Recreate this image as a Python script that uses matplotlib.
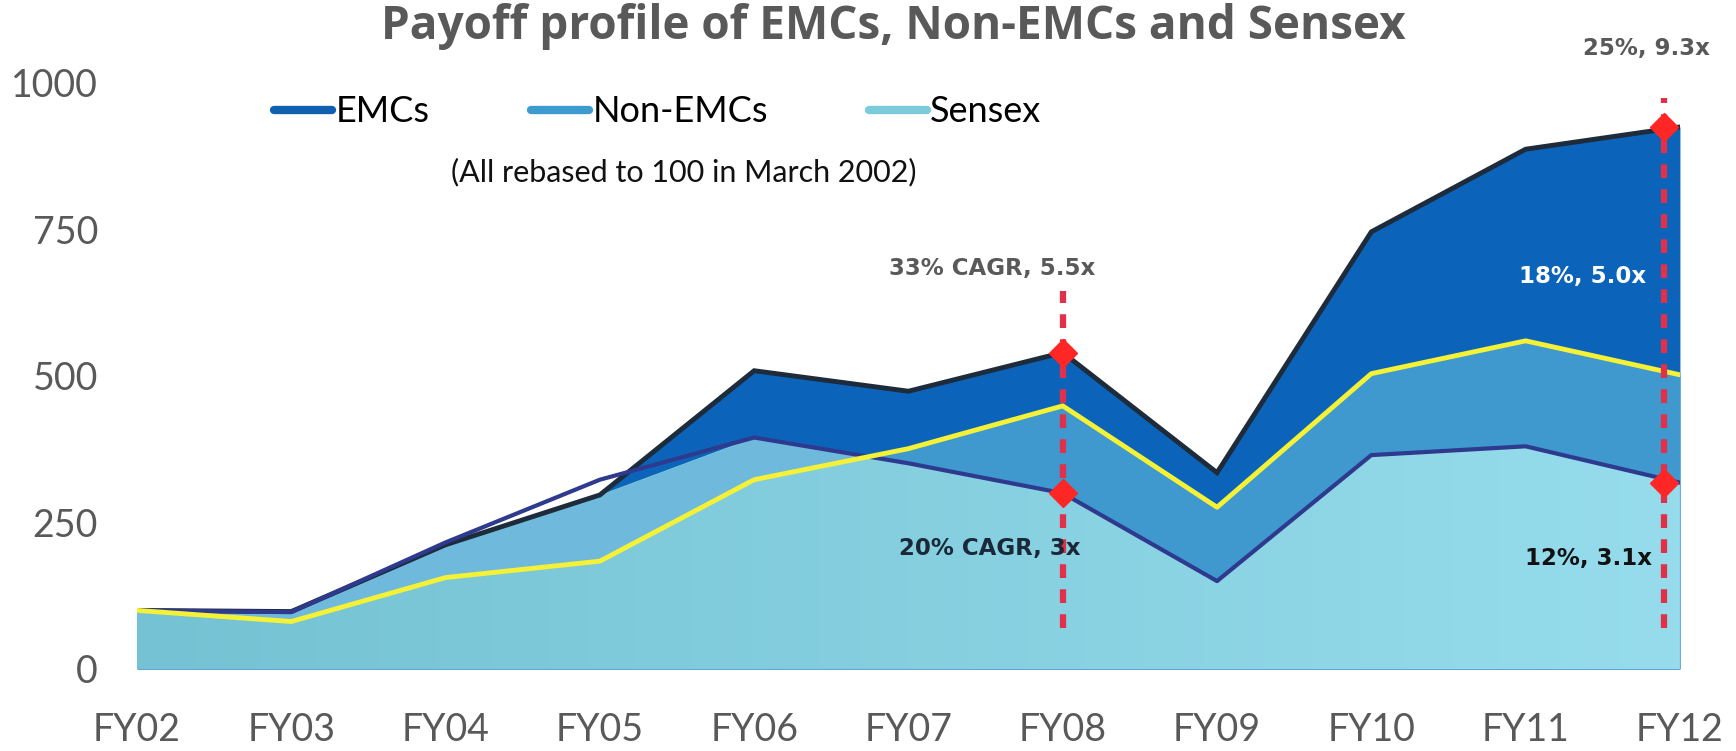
import matplotlib.pyplot as plt
import numpy as np
from matplotlib.lines import Line2D
from matplotlib.colors import LinearSegmentedColormap

# values rebased to 100 in March 2002
years = ["FY02", "FY03", "FY04", "FY05", "FY06", "FY07", "FY08", "FY09", "FY10", "FY11", "FY12"]
emcs = [100, 98, 212, 297, 509, 474, 540, 335, 746, 887, 925]
non_emcs = [100, 81, 156, 184, 323, 376, 449, 276, 504, 560, 502]
sensex = [100, 97, 216, 323, 395, 351, 300, 150, 365, 380, 318]

# callouts at FY08 and FY12
callout_idx = [6, 10]
callout_x = [6, 9.9]
dash_top = [645, 975]
dash_bottom = 70

gray = "#595959"
dark = "#0c64ba"
mid = "#3f98ce"

fig = plt.figure(figsize=(17.36, 7.51), dpi=100)
ax = fig.add_axes([0.0789, 0.1092, 0.8888, 0.7803])
x = np.arange(len(years))
emcs_a = np.array(emcs, dtype=float)
non_a = np.array(non_emcs, dtype=float)
sens_a = np.array(sensex, dtype=float)

# stacked look: EMCs, then Non-EMCs, then Sensex with a gradient on top
ax.fill_between(x, 0, emcs_a, color=dark, lw=0, zorder=1)
ax.fill_between(x, 0, non_a, color=mid, lw=0, zorder=2)
top_light = np.minimum(sens_a, emcs_a)
poly = ax.fill_between(x, 0, top_light, color="none", lw=0, zorder=3)
grad = np.linspace(0, 1, 256).reshape(1, -1)
cmap = LinearSegmentedColormap.from_list("sens", ["#74c2d3", "#96dcec"])
im = ax.imshow(grad, extent=[0, 10, 0, 1000], aspect="auto", cmap=cmap,
               origin="lower", zorder=3)
im.set_clip_path(poly.get_paths()[0], transform=ax.transData)
ax.fill_between(x, non_a, top_light, where=top_light > non_a, interpolate=True,
                color="#6fb9dc", lw=0, zorder=4)

ax.plot(x, emcs_a, color="#1d2b3b", lw=3.5, zorder=5, solid_joinstyle="miter")
ax.plot(x, sens_a, color="#2e3a8e", lw=3, zorder=5)
ax.plot(x, non_a, color="#f4f136", lw=3.5, zorder=6)

for i, cx, top in zip(callout_idx, callout_x, dash_top):
    ax.plot([cx, cx], [dash_bottom, top], color="#e0304a", lw=4.5,
            linestyle=(0, (2.2, 1.8)), zorder=7, clip_on=False)
    ax.plot([cx, cx], [emcs[i], sensex[i]], "D", color="#ff2626", ms=14,
            zorder=8, clip_on=False)

bold = dict(family="DejaVu Sans", weight="bold", fontsize=16.5, ha="center", va="center", zorder=9)
ax.text(5.54, 684, "33% CAGR, 5.5x", color=gray, **bold)
ax.text(5.53, 206, "20% CAGR, 3x", color="#1a2838", **bold)
ax.text(9.78, 1058, "25%, 9.3x", color=gray, **bold)
ax.text(9.37, 669, "18%, 5.0x", color="white", **bold)
ax.text(9.41, 188, "12%, 3.1x", color="#111111", **bold)

ax.set_xlim(0, 10)
ax.set_ylim(0, 1000)
ax.set_xticks(x)
ax.set_xticklabels(years)
ax.set_yticks([0, 250, 500, 750, 1000])
ax.tick_params(axis="both", length=0, labelsize=27, labelcolor=gray)
ax.tick_params(axis="y", pad=28)
ax.tick_params(axis="x", pad=31)
for lab in ax.get_xticklabels() + ax.get_yticklabels():
    lab.set_family("Lato")
for s in ax.spines.values():
    s.set_visible(False)

fig.text(893 / 1736, 1 - 26 / 751, "Payoff profile of EMCs, Non-EMCs and Sensex",
         ha="center", va="center", fontsize=33, weight="bold", color=gray, family="Open Sans")

handles = [Line2D([], [], color="#1060b0", lw=6, solid_capstyle="round"),
           Line2D([], [], color="#3d9bd0", lw=6, solid_capstyle="round"),
           Line2D([], [], color="#7ccbdc", lw=6, solid_capstyle="round")]
fig.legend(handles, ["EMCs", "Non-EMCs", "Sensex"], loc="center",
           bbox_to_anchor=(658 / 1736, 1 - 112 / 751), ncol=3, frameon=False,
           prop={"family": "Lato", "size": 26}, handlelength=1.6,
           handletextpad=0.1, columnspacing=2.8)
fig.text(684 / 1736, 1 - 172 / 751, "(All rebased to 100 in March 2002)",
         ha="center", va="center", fontsize=22, color="#111111", family="Lato")

fig.savefig("out.png", dpi=100)
